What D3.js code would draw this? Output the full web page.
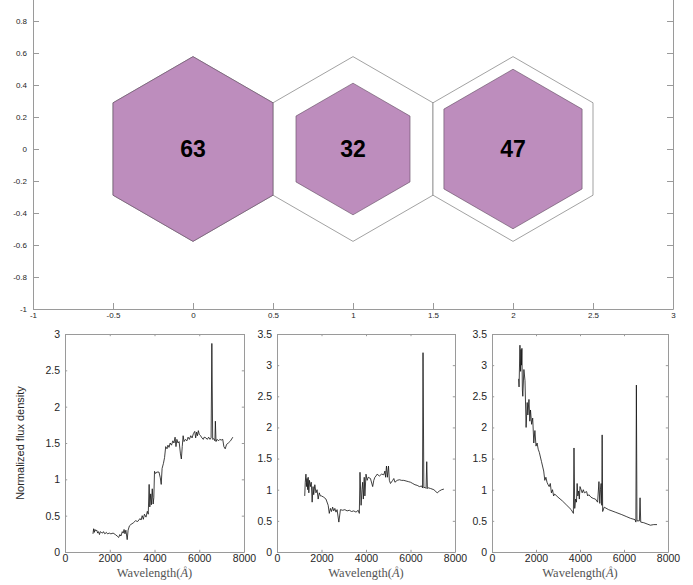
<!DOCTYPE html>
<html><head><meta charset="utf-8">
<script src="https://cdn.jsdelivr.net/npm/d3@7/dist/d3.min.js"></script>
<style>
body{margin:0;background:#fff;}
svg{display:block;font-family:"Liberation Sans",Arial,Helvetica,sans-serif;}
</style></head>
<body><svg id="c" width="693" height="585"></svg>
<script>
// ---------- DATA ----------
const hexCenters = [0, 1, 2];
const hexCounts = [63, 32, 47];
const topXTicks = [-1, -0.5, 0, 0.5, 1, 1.5, 2, 2.5, 3];
const topYTicks = [-1, -0.8, -0.6, -0.4, -0.2, 0, 0.2, 0.4, 0.6, 0.8];
const specXTicks = [0, 2000, 4000, 6000, 8000];
const specYTicks1 = [0, 0.5, 1, 1.5, 2, 2.5, 3];
const specYTicks2 = [0, 0.5, 1, 1.5, 2, 2.5, 3, 3.5];

const wave1 = [1250,1280,1310,1340,1380,1420,1460,1500,1540,1580,1620,1680,1720,1780,1850,1900,1980,2050,2150,2250,2330,2400,2450,2500,2560,2600,2640,2680,2720,2780,2820,2880,2950,3050,3150,3250,3350,3400,3450,3500,3550,3620,3680,3720,3760,3790,3830,3860,3900,3940,3970,4000,4050,4100,4200,4260,4300,4340,4400,4450,4500,4560,4600,4650,4700,4760,4820,4870,4920,4960,5000,5050,5100,5160,5200,5240,5280,5320,5380,5450,5500,5560,5620,5680,5740,5800,5840,5880,5920,5960,6000,6060,6120,6180,6220,6300,6360,6420,6480,6530,6563,6600,6650,6700,6720,6750,6800,6860,6920,6980,7050,7100,7160,7220,7300,7400,7500];
const flux1 = [0.25,0.32,0.27,0.31,0.29,0.30,0.26,0.28,0.24,0.28,0.27,0.26,0.28,0.25,0.27,0.25,0.26,0.25,0.26,0.24,0.22,0.20,0.24,0.22,0.28,0.26,0.31,0.25,0.30,0.17,0.30,0.36,0.38,0.40,0.43,0.42,0.46,0.44,0.50,0.45,0.52,0.48,0.56,0.52,0.93,0.62,0.80,0.65,0.87,0.66,0.75,1.11,1.08,1.10,1.10,1.02,0.93,1.15,1.22,1.30,1.45,1.42,1.47,1.44,1.50,1.47,1.53,1.50,1.58,1.45,1.55,1.50,1.52,1.35,1.28,1.45,1.60,1.52,1.55,1.53,1.58,1.55,1.60,1.57,1.63,1.66,1.57,1.65,1.60,1.67,1.62,1.60,1.57,1.55,1.58,1.57,1.55,1.58,1.55,1.57,2.87,1.55,1.56,1.53,1.80,1.52,1.55,1.53,1.55,1.54,1.55,1.45,1.42,1.48,1.50,1.53,1.58];

const wave2 = [1246,1270,1300,1330,1350,1380,1400,1430,1460,1500,1540,1580,1620,1650,1700,1750,1800,1850,1900,1950,2000,2100,2200,2300,2350,2400,2450,2500,2550,2600,2650,2700,2780,2850,2950,3050,3150,3250,3350,3450,3550,3650,3700,3730,3780,3820,3850,3880,3920,3950,4000,4050,4100,4200,4300,4350,4400,4450,4500,4600,4700,4800,4850,4880,4920,4960,5010,5050,5100,5200,5250,5300,5400,5500,5600,5700,5800,5900,6000,6100,6200,6300,6400,6500,6540,6563,6600,6650,6700,6730,6760,6800,6900,7050,7200,7300,7400,7500];
const flux2 = [0.90,1.12,1.25,1.05,1.18,1.00,1.20,0.95,1.15,1.05,1.12,0.80,1.05,0.92,1.08,0.95,1.00,0.85,0.95,0.90,0.90,0.88,0.85,0.75,0.62,0.70,0.65,0.72,0.66,0.70,0.64,0.68,0.48,0.68,0.67,0.68,0.66,0.67,0.65,0.66,0.64,0.67,0.62,1.28,0.75,1.00,1.12,0.85,1.20,0.90,1.25,1.15,1.20,1.18,1.05,1.15,1.20,1.22,1.25,1.22,1.25,1.24,1.30,1.20,1.38,1.20,1.38,1.15,1.10,1.15,1.18,1.12,1.15,1.16,1.15,1.15,1.14,1.13,1.12,1.10,1.08,1.07,1.05,1.06,1.03,3.20,1.03,1.04,1.02,1.45,1.02,1.03,1.02,1.00,0.95,0.98,1.00,1.01];

const wave3 = [1210,1230,1270,1300,1320,1340,1360,1380,1400,1450,1500,1550,1600,1630,1680,1720,1750,1800,1850,1900,1950,2000,2050,2100,2150,2250,2350,2400,2450,2500,2550,2600,2650,2700,2750,2800,2850,3000,3200,3400,3600,3700,3727,3760,3800,3840,3870,3900,3940,3970,4000,4100,4150,4200,4300,4350,4400,4500,4600,4700,4800,4861,4900,4930,4959,4990,5007,5030,5100,5300,5600,5900,6100,6300,6500,6540,6563,6590,6700,6730,6760,6900,7050,7200,7350,7500];
const flux3 = [2.78,2.65,3.32,2.90,3.25,3.00,3.27,2.60,2.50,2.93,2.75,2.00,2.40,2.20,2.45,2.10,2.28,2.05,2.15,1.75,1.95,1.70,1.75,1.65,1.60,1.45,1.30,1.15,1.20,1.12,1.08,1.05,1.10,0.95,1.00,0.90,0.93,0.88,0.82,0.75,0.68,0.62,1.67,0.70,0.85,0.80,1.10,0.90,0.98,0.85,1.05,0.95,1.00,0.95,0.97,0.90,0.92,0.88,0.86,0.85,0.80,1.13,0.78,1.00,1.10,0.75,1.88,0.65,0.72,0.68,0.64,0.60,0.57,0.54,0.52,0.48,2.68,0.50,0.50,0.87,0.48,0.47,0.45,0.43,0.44,0.44];

// ---------- DRAW ----------
const svg = d3.select("#c");
const AX = "#9a9a9a", TXT = "#262626";
const fmt = d => (+d.toFixed(2)).toString();

function styleAxis(g, fs){
  g.select(".domain").attr("stroke", AX).attr("stroke-width", 1);
  g.selectAll(".tick line").attr("stroke", AX);
  g.selectAll(".tick text").attr("fill", TXT).style("font-size", fs+"px")
   .style("font-family", '"Liberation Sans",Arial,Helvetica,sans-serif');
}

// Top panel
const tx = d3.scaleLinear().domain([-1,3]).range([33,673]);
const ty = d3.scaleLinear().domain([-1,1]).range([309,-11]);
const tk = 6;
const topG = svg.append("g");
topG.append("g").attr("transform","translate(0,309)")
  .call(d3.axisBottom(tx).tickValues(topXTicks).tickFormat(fmt).tickSizeInner(-tk).tickSizeOuter(0).tickPadding(3))
  .call(g=>styleAxis(g,8));
topG.append("g").attr("transform","translate(33,0)")
  .call(d3.axisLeft(ty).tickValues(topYTicks).tickFormat(fmt).tickSizeInner(-tk).tickSizeOuter(0).tickPadding(6))
  .call(g=>styleAxis(g,8));
topG.append("g").attr("transform","translate(0,-11)")
  .call(d3.axisTop(tx).tickValues(topXTicks).tickFormat("").tickSizeInner(-tk).tickSizeOuter(0))
  .call(g=>styleAxis(g,8));
topG.append("g").attr("transform","translate(673,0)")
  .call(d3.axisRight(ty).tickValues(topYTicks).tickFormat("").tickSizeInner(-tk).tickSizeOuter(0))
  .call(g=>styleAxis(g,8));

const R = 1/Math.sqrt(3);
const maxC = d3.max(hexCounts);
function hexPts(cx, r){
  const pts = [];
  for(let i=0;i<6;i++){
    const a = Math.PI/2 + i*Math.PI/3;
    pts.push([tx(cx + r*Math.cos(a)), ty(r*Math.sin(a))]);
  }
  return pts.map(p=>p.join(",")).join(" ");
}
const hexG = topG.append("g");
hexCenters.forEach((c,i)=>{
  hexG.append("polygon").attr("points", hexPts(c, R))
    .attr("fill","#fff").attr("stroke","#7a7a7a").attr("stroke-width",0.7);
});
hexCenters.forEach((c,i)=>{
  const r = R*Math.sqrt(hexCounts[i]/maxC);
  hexG.append("polygon").attr("points", hexPts(c, r))
    .attr("fill","#bd8dbd").attr("stroke","#5e4a5e").attr("stroke-width",0.6);
  hexG.append("text").attr("x", tx(c)).attr("y", ty(0)).attr("dy","0.36em")
    .attr("text-anchor","middle").style("font-size","23px").style("font-weight","bold")
    .attr("fill","#000").text(hexCounts[i]);
});

// Bottom panels
const panels = [
  {x0:65, x1:244, ymax:3, yt:specYTicks1, w:wave1, f:flux1, ylabel:true},
  {x0:277, x1:455, ymax:3.5, yt:specYTicks2, w:wave2, f:flux2},
  {x0:492, x1:668, ymax:3.5, yt:specYTicks2, w:wave3, f:flux3}
];
const pyB = 552, pyT = 334;
panels.forEach(p=>{
  const x = d3.scaleLinear().domain([0,8000]).range([p.x0,p.x1]);
  const y = d3.scaleLinear().domain([0,p.ymax]).range([pyB,pyT]);
  const g = svg.append("g");
  const t2 = 2.2;
  g.append("g").attr("transform",`translate(0,${pyB})`)
    .call(d3.axisBottom(x).tickValues(specXTicks).tickFormat(d=>String(d)).tickSizeInner(-t2).tickSizeOuter(0).tickPadding(3))
    .call(a=>styleAxis(a,10.5));
  g.append("g").attr("transform",`translate(${p.x0},0)`)
    .call(d3.axisLeft(y).tickValues(p.yt).tickFormat(fmt).tickSizeInner(-t2).tickSizeOuter(0).tickPadding(5))
    .call(a=>styleAxis(a,10.5));
  g.append("g").attr("transform",`translate(0,${pyT})`)
    .call(d3.axisTop(x).tickValues(specXTicks).tickFormat("").tickSizeInner(-t2).tickSizeOuter(0))
    .call(a=>styleAxis(a,10.5));
  g.append("g").attr("transform",`translate(${p.x1},0)`)
    .call(d3.axisRight(y).tickValues(p.yt).tickFormat("").tickSizeInner(-t2).tickSizeOuter(0))
    .call(a=>styleAxis(a,10.5));
  const data = p.w.map((w,i)=>[w,p.f[i]]);
  g.append("path").datum(data)
    .attr("d", d3.line().x(d=>x(d[0])).y(d=>y(d[1])))
    .attr("fill","none").attr("stroke","#111").attr("stroke-width",0.8);
  const lab = g.append("text").attr("x",(p.x0+p.x1)/2).attr("y",577)
    .attr("text-anchor","middle").attr("fill","#555")
    .style("font-family",'"Liberation Serif","DejaVu Serif",serif').style("font-size","12.5px");
  lab.append("tspan").text("Wavelength(");
  lab.append("tspan").style("font-style","italic").text("Å");
  lab.append("tspan").text(")");
  if(p.ylabel){
    g.append("text").attr("transform",`translate(24,${(pyB+pyT)/2}) rotate(-90)`)
      .attr("text-anchor","middle").attr("fill",TXT).style("font-size","11px")
      .text("Normalized flux density");
  }
});
</script></body></html>
